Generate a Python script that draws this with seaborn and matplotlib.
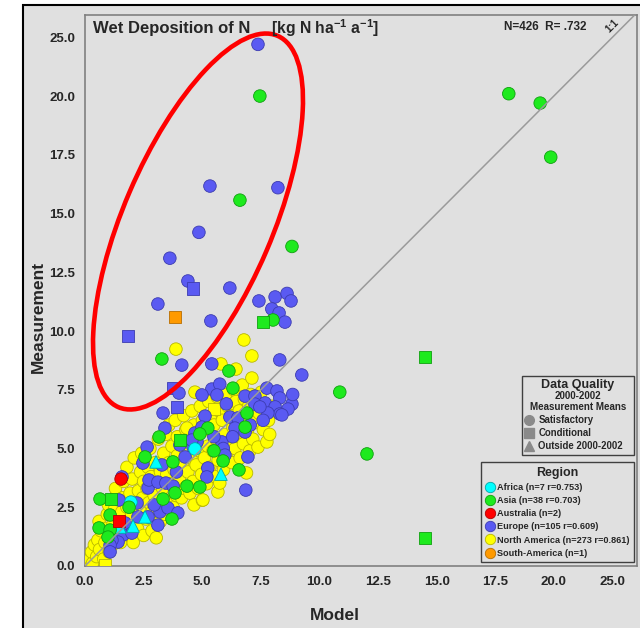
import matplotlib
matplotlib.use("Agg")
import matplotlib.pyplot as plt
import seaborn as sns
import pandas as pd
from matplotlib.lines import Line2D
from matplotlib.patches import Ellipse, Rectangle

sns.set_style("white")
plt.rcParams["font.family"] = ["Liberation Sans", "DejaVu Sans"]
plt.rcParams["font.weight"] = "bold"
plt.rcParams["mathtext.fontset"] = "custom"
plt.rcParams["mathtext.rm"] = "Liberation Sans:bold"
plt.rcParams["mathtext.it"] = "Liberation Sans:bold"
plt.rcParams["mathtext.bf"] = "Liberation Sans:bold"

# ---- data (model vs measurement, kg N ha-1 a-1) ----
na_x = [0.1, 0.22, 0.32, 0.28, 0.4, 0.5, 0.55, 0.62, 0.68, 0.6, 0.8, 0.85, 0.9, 0.95, 1.03, 1.08, 1.0,
        1.17, 1.2, 1.25, 1.35, 1.4, 1.43, 1.3, 1.52, 1.57, 1.6, 1.65, 1.75, 1.79, 1.79,
        1.88, 1.92, 1.97, 2.01, 2.1, 2.15, 2.06, 2.24, 2.28, 2.33, 2.37, 2.46, 2.5, 2.42, 2.5,
        2.6, 2.64, 2.69, 2.73, 2.77, 2.82, 2.86, 2.86, 2.95, 3.0, 3.04, 3.09, 3.13, 3.18, 3.22, 3.22,
        3.31, 3.36, 3.4, 3.45, 3.49, 3.54, 3.58, 3.58, 3.67, 3.71, 3.76, 3.8, 3.85, 3.89, 3.94, 3.94,
        4.03, 4.07, 4.12, 4.16, 4.21, 4.25, 4.3, 4.3, 4.39, 4.43, 4.48, 4.52, 4.56, 4.61, 4.65, 4.65,
        4.74, 4.79, 4.83, 4.88, 4.92, 4.97, 5.01, 5.01, 5.1, 5.15, 5.19, 5.24, 5.28, 5.33, 5.37,
        5.46, 5.5, 5.55, 5.59, 5.64, 5.68, 5.73, 5.67, 5.82, 5.86, 5.91, 5.95, 6.0, 6.04, 6.09,
        6.18, 6.22, 6.27, 6.31, 6.35, 6.4, 6.44, 6.53, 6.58, 6.62, 6.67, 6.71, 6.76, 6.8,
        6.89, 6.94, 6.98, 7.03, 7.07, 7.16, 7.16, 7.25, 7.29, 7.38, 7.43, 7.52, 7.61,
        7.76, 7.83, 7.97, 7.88,
        3.88, 5.8, 6.44, 6.78, 7.12, 7.12, 4.69, 5.75, 5.03, 4.35,
        0.85, 5.5]
na_y = [0.08, 0.3, 0.12, 0.6, 0.9, 0.4, 1.1, 0.7, 1.5, 1.9, 0.3, 1.0, 1.6, 2.2, 0.6, 1.3, 2.6,
        0.9, 1.8, 2.4, 3.0, 1.3, 2.0, 3.3, 1.0, 2.3, 2.9, 3.6, 1.6, 2.5, 4.2,
        1.3, 3.1, 2.1, 3.7, 4.6, 2.7, 1.0, 1.6, 3.2, 2.4, 4.0, 2.9, 3.6, 4.8, 1.3,
        2.0, 3.3, 4.2, 2.7, 5.0, 3.8, 1.5, 2.3, 3.0, 4.4, 1.2, 3.6, 5.4, 2.6, 4.0, 1.9,
        3.3, 4.8, 2.2, 5.6, 3.9, 2.8, 4.4, 6.0, 3.5, 5.1, 2.5, 4.1, 6.2, 3.0, 4.7, 5.5,
        3.7, 5.2, 2.9, 4.3, 6.4, 3.3, 5.8, 4.9, 4.0, 5.4, 3.1, 4.6, 6.6, 3.6, 6.0, 2.6,
        4.3, 5.6, 3.3, 4.9, 6.8, 3.9, 6.2, 2.8, 4.6, 5.8, 3.5, 5.1, 7.0, 4.2, 6.4,
        4.9, 6.0, 3.8, 5.4, 7.2, 4.5, 6.6, 3.15, 5.1, 6.2, 4.1, 5.6, 7.3, 4.7, 6.8,
        5.3, 6.4, 4.4, 5.9, 7.5, 5.0, 7.0, 5.6, 6.6, 4.6, 6.1, 7.7, 5.2, 7.1,
        3.96, 5.8, 6.8, 4.9, 7.3, 6.3, 5.4, 6.1, 7.0, 5.06, 6.5, 7.4, 5.8,
        5.28, 6.2, 6.8, 5.6,
        9.23, 8.6, 8.38, 9.62, 8.94, 8.0, 7.4, 3.53, 2.81, 5.87,
        0.05, 6.68]
na_q = ["S"] * (len(na_x) - 2) + ["C", "C"]

eu_x = [7.38, 5.33, 8.23, 4.86, 3.62, 4.39, 4.61, 6.18, 3.11, 7.42, 8.11, 8.62, 8.79, 7.97, 8.28, 8.53,
        5.37, 1.83, 4.13, 5.41, 8.31, 9.25, 3.75, 4.01, 5.41, 5.75, 5.63, 4.99, 6.83, 7.25, 7.76, 8.19,
        8.31, 7.68, 7.25, 8.11, 8.83, 8.66, 8.31, 7.8, 7.46, 8.4, 6.18, 5.12, 6.52, 6.4, 6.83, 3.93,
        3.33, 3.41, 5.84, 5.9, 5.97, 6.95, 6.86, 5.24, 5.2, 4.78, 4.69, 4.99, 4.61, 4.27, 4.05, 4.56,
        2.65, 2.47, 3.28, 2.69, 2.73, 3.11, 3.45, 1.58, 1.45, 2.22, 3.2, 3.54, 3.96, 2.95, 2.69, 3.11,
        2.26, 1.71, 1.62, 1.41, 1.15, 1.07, 1.07, 3.76, 8.86, 6.03, 6.3, 7.05, 3.9, 2.0, 5.5, 7.6]
eu_y = [22.2, 16.17, 16.1, 14.2, 13.1, 12.13, 11.8, 11.83, 11.15, 11.28, 11.45, 11.6, 11.28, 10.94, 10.77, 10.38,
        10.43, 9.79, 8.55, 8.6, 8.77, 8.13, 7.57, 7.36, 7.53, 7.74, 7.28, 7.28, 7.23, 7.23, 7.57, 7.45,
        7.15, 6.94, 6.89, 6.77, 6.89, 6.68, 6.47, 6.51, 6.77, 6.43, 6.34, 6.38, 6.3, 5.87, 5.7, 6.77,
        6.51, 5.87, 5.28, 5.0, 4.72, 4.64, 3.23, 4.17, 3.79, 5.28, 5.66, 5.91, 5.06, 4.64, 5.15, 5.36,
        5.06, 4.38, 4.3, 3.32, 3.66, 3.57, 3.53, 3.79, 2.81, 2.68, 2.3, 2.47, 2.26, 2.6, 2.09, 1.74,
        2.09, 1.83, 1.32, 1.02, 1.1, 0.89, 0.6, 3.4, 7.3, 6.9, 5.5, 6.0, 4.0, 1.4, 5.5, 6.2]
eu_q = ["S"] * len(eu_x)
for i in (6, 17, 22, 47):
    eu_q[i] = "C"

as_x = [18.08, 19.42, 19.87, 14.5, 10.87, 12.03, 14.5, 7.46, 6.61, 8.83, 8.02, 7.59, 3.28, 6.14, 6.31,
        6.91, 6.83, 5.24, 4.9, 3.16, 4.05, 0.64, 1.11, 0.6, 1.07, 1.07, 0.98, 2.56, 3.75, 3.33, 3.84,
        4.35, 4.9, 3.71, 5.89, 6.57, 1.88, 5.5]
as_y = [20.1, 19.7, 17.4, 8.9, 7.4, 4.77, 1.19, 20.0, 15.57, 13.6, 10.47, 10.38, 8.81, 8.3, 7.57,
        6.51, 5.91, 5.87, 5.62, 5.49, 5.36, 2.85, 2.85, 1.62, 2.17, 1.53, 1.23, 4.64, 4.43, 2.85, 3.11,
        3.4, 3.36, 2.0, 4.47, 4.09, 2.5, 4.9]
as_q = ["S"] * len(as_x)
for i in (3, 6, 11, 20, 22):
    as_q[i] = "C"

af_x = [4.69, 1.96, 3.03, 5.8, 2.56, 2.05, 1.49]
af_y = [4.98, 2.72, 4.43, 3.91, 2.09, 1.7, 1.66]
af_q = ["S", "S", "O", "O", "O", "O", "O"]

au_x = [1.54, 1.45]
au_y = [3.7, 1.91]
au_q = ["S", "C"]

sa_x = [3.84]
sa_y = [10.6]
sa_q = ["C"]

regions = ["Africa", "Asia", "Australia", "Europe", "North America", "South-America"]
region_labels = ["Africa (n=7 r=0.753)", "Asia (n=38 r=0.703)", "Australia (n=2)",
                 "Europe (n=105 r=0.609)", "North America (n=273 r=0.861)", "South-America (n=1)"]
face = {"Africa": "#00ffff", "Asia": "#1eea1e", "Australia": "#ff0000",
        "Europe": "#5a5af2", "North America": "#ffff00", "South-America": "#ff9a00"}
edge = {"Africa": "#00a8a8", "Asia": "#10a010", "Australia": "#b00000",
        "Europe": "#3c3cb0", "North America": "#b8b800", "South-America": "#b86e00"}
quality_labels = {"S": "Satisfactory", "C": "Conditional", "O": "Outside 2000-2002"}
markers = {"S": "o", "C": "s", "O": "^"}

parts = [("North America", na_x, na_y, na_q), ("Europe", eu_x, eu_y, eu_q),
         ("Africa", af_x, af_y, af_q), ("Asia", as_x, as_y, as_q),
         ("Australia", au_x, au_y, au_q), ("South-America", sa_x, sa_y, sa_q)]
df = pd.concat([pd.DataFrame({"model": xs, "measurement": ys, "quality": qs, "region": name})
                for name, xs, ys, qs in parts], ignore_index=True)

W, H = 640, 628
def fx(px):
    return px / W
def fy(py):
    return 1 - py / H

fig = plt.figure(figsize=(6.4, 6.28), dpi=100)
fig.patch.set_facecolor("white")
fig.add_artist(Rectangle((fx(23), -0.02), 1.0, fy(5) + 0.02, transform=fig.transFigure,
                         facecolor="#e0e0e0", edgecolor="black", lw=1.5, zorder=-10))

ax = fig.add_axes([fx(85), fy(566), (637 - 85) / W, (566 - 15) / H])
ax.set_facecolor("#e0e0e0")

for name, _, _, _ in parts:
    sub = df[df["region"] == name]
    sns.scatterplot(data=sub, x="model", y="measurement", style="quality",
                    markers=markers, style_order=["S", "C", "O"], color=face[name],
                    edgecolor=edge[name], linewidth=0.6, s=82, legend=False, ax=ax, zorder=3)

ax.axline((0, 0), slope=1, color="#9a9a9a", lw=1.1, zorder=4)

ticks = [0, 2.5, 5, 7.5, 10, 12.5, 15, 17.5, 20, 22.5]
tick_labels = ["0.0", "2.5", "5.0", "7.5", "10.0", "12.5", "15.0", "17.5", "20.0", "25.0"]
ax.set_xlim(0, 23.55)
ax.set_ylim(0, 23.45)
ax.set_xticks(ticks)
ax.set_xticklabels(tick_labels)
ax.set_yticks(ticks)
ax.set_yticklabels(tick_labels)
ax.tick_params(axis="both", direction="out", length=4, width=1, color="#606060",
               labelsize=9.5, pad=3)
for lab in ax.get_xticklabels() + ax.get_yticklabels():
    lab.set_fontweight("bold")
for sp in ax.spines.values():
    sp.set_color("#808080")
    sp.set_linewidth(1.2)
ax.set_xlabel("")
ax.set_ylabel("")

fig.text(fx(335), fy(615), "Model", ha="center", va="center", fontsize=12.5, fontweight="bold")
fig.text(fx(38), fy(317), "Measurement", ha="center", va="center", rotation=90,
         fontsize=12.5, fontweight="bold")

fig.text(fx(93), fy(28), "Wet Deposition of N", ha="left", va="center", fontsize=12, fontweight="bold")
fig.text(fx(271), fy(28), r"[kg N ha$^{-1}$ a$^{-1}$]", ha="left", va="center", fontsize=11.3,
         fontweight="bold")
fig.text(fx(545), fy(27), "N=426  R= .732", ha="center", va="center", fontsize=8.5, fontweight="bold")
fig.text(fx(612), fy(26), "1:1", ha="center", va="center", rotation=45, fontsize=7)

# red highlight ellipse (annotation)
ax.add_patch(Ellipse((1.98, 6.28 - 2.215), width=4.04, height=1.49, angle=66.8,
                     transform=fig.dpi_scale_trans, fill=False, edgecolor="#ff0000", lw=3.3, zorder=6))

# Region legend
reg_handles = [Line2D([], [], ls="", marker="o", markersize=7.5, markerfacecolor=face[r],
                      markeredgecolor=edge[r], markeredgewidth=0.6) for r in regions]
leg1 = ax.legend(reg_handles, region_labels, title="Region", loc="lower right",
                 bbox_to_anchor=(fx(634), fy(562)), bbox_transform=fig.transFigure,
                 borderaxespad=0, prop={"weight": "bold", "size": 6.6},
                 title_fontproperties={"weight": "bold", "size": 9},
                 frameon=True, fancybox=False, edgecolor="#404040", facecolor="#e0e0e0",
                 framealpha=1, handlelength=0.9, handletextpad=0.4, labelspacing=0.46,
                 borderpad=0.45)
leg1.get_frame().set_linewidth(1.0)
ax.add_artist(leg1)

# Data quality box
ax.add_patch(Rectangle((fx(522), fy(455)), (634 - 522) / W, (455 - 376) / H,
                       transform=fig.transFigure, facecolor="#e0e0e0", edgecolor="#404040",
                       lw=1.0, zorder=7, clip_on=False))
fig.text(fx(578), fy(385), "Data Quality", ha="center", va="center", fontsize=9,
         fontweight="bold")
fig.text(fx(578), fy(396), "2000-2002", ha="center", va="center", fontsize=7,
         fontweight="bold")
fig.text(fx(578), fy(407), "Measurement Means", ha="center", va="center", fontsize=7,
         fontweight="bold")
q_handles = [Line2D([], [], ls="", marker=markers[q], markersize=7, markerfacecolor="#8a8a8a",
                    markeredgecolor="#8a8a8a") for q in ["S", "C", "O"]]
leg2 = ax.legend(q_handles, [quality_labels[q] for q in ["S", "C", "O"]], loc="upper left",
                 bbox_to_anchor=(fx(524), fy(414)), bbox_transform=fig.transFigure,
                 borderaxespad=0, prop={"weight": "bold", "size": 6.9}, frameon=False,
                 handlelength=0.9, handletextpad=0.5, labelspacing=0.32, borderpad=0.1)
leg2.set_zorder(8)

fig.savefig("out.png", dpi=100)
